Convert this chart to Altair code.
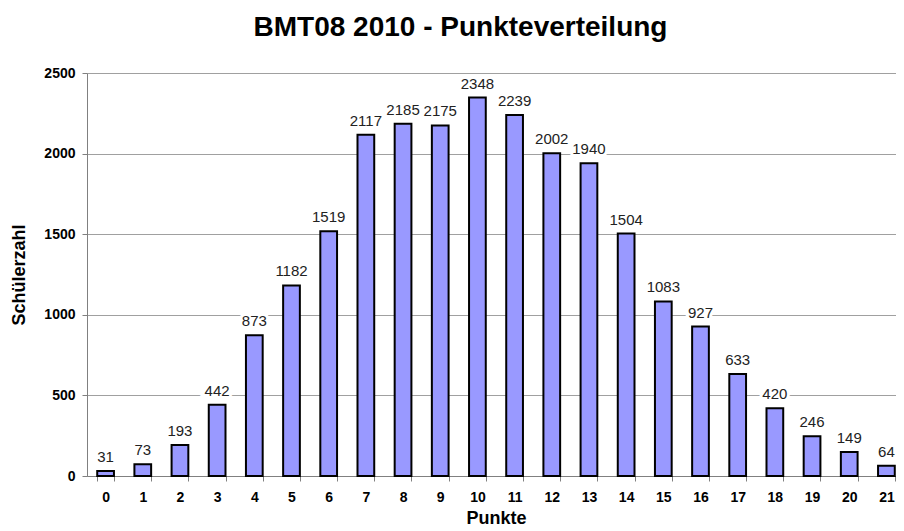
import altair as alt
import pandas as pd

punkte = list(range(22))
schueler = [31, 73, 193, 442, 873, 1182, 1519, 2117, 2185, 2175, 2348, 2239,
            2002, 1940, 1504, 1083, 927, 633, 420, 246, 149, 64]
y_ticks = [0, 500, 1000, 1500, 2000, 2500]

df = pd.DataFrame({"Punkte": punkte, "Schülerzahl": schueler})

FONT = "Liberation Sans"

x = alt.X("Punkte:O", title="Punkte",
          scale=alt.Scale(paddingInner=0.55, paddingOuter=0.275, range=[0, 818]),
          axis=alt.Axis(labelAngle=0, labelFont=FONT, labelFontWeight="bold",
                        labelFontSize=14, labelColor="black", labelPadding=9,
                        titleFont=FONT, titleFontWeight="bold", titleFontSize=18,
                        titleColor="black", titlePadding=5,
                        domainColor="#808080", tickColor="#808080",
                        tickBand="extent", tickSize=5, grid=False))
y = alt.Y("Schülerzahl:Q", title="Schülerzahl",
          scale=alt.Scale(domain=[0, 2500], nice=False),
          axis=alt.Axis(values=y_ticks, format="d",
                        labelFont=FONT, labelFontWeight="bold", labelFontSize=14,
                        labelColor="black", labelPadding=7,
                        titleFont=FONT, titleFontWeight="bold", titleFontSize=18,
                        titleColor="black", titlePadding=15,
                        domainColor="#808080", tickColor="#808080", tickSize=5,
                        gridColor="#a0a0a0", gridWidth=1))

base = alt.Chart(df)

bars = base.mark_bar(fill="#9999ff", stroke="black", strokeWidth=2).encode(x=x, y=y)

halo = base.mark_text(baseline="alphabetic", dy=-9, font=FONT, fontSize=15,
                      stroke="white", strokeWidth=6, color="white").encode(
    x="Punkte:O", y="Schülerzahl:Q", text="Schülerzahl:Q")
labels = base.mark_text(baseline="alphabetic", dy=-9, font=FONT, fontSize=15,
                        color="#222222").encode(
    x="Punkte:O", y="Schülerzahl:Q", text="Schülerzahl:Q")

chart = alt.layer(bars, halo, labels).properties(
    width=809, height=403,
    title=alt.TitleParams("BMT08 2010 - Punkteverteilung", font=FONT,
                          fontSize=28, fontWeight="bold", color="black",
                          anchor="middle", dx=-31, offset=24),
    autosize=alt.AutoSizeParams(type="none"),
    padding={"left": 79, "top": 65, "right": 0, "bottom": 55},
).configure_view(stroke=None).configure(background="white")

chart.save("out.html", embed_options={"renderer": "svg", "actions": False})
